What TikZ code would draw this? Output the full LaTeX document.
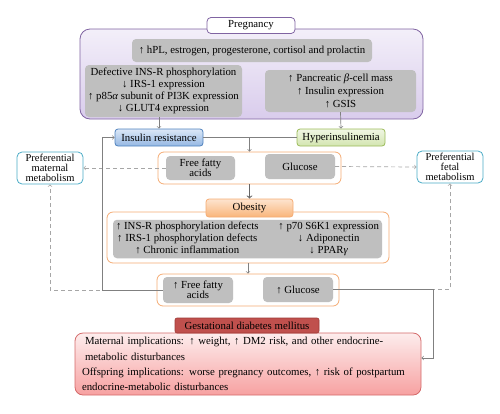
\documentclass[tikz,border=0pt]{standalone}
\usepackage{fontspec}
\setmainfont{Liberation Serif}
\usepackage{tikz}
\usetikzlibrary{arrows}
\definecolor{purp}{HTML}{8064A2}
\definecolor{purpA}{HTML}{F3EFF9}
\definecolor{purpB}{HTML}{D9CCEC}
\definecolor{boxgrey}{HTML}{BFBFBF}
\definecolor{blu}{HTML}{4F81BD}
\definecolor{bluA}{HTML}{DCE8F7}
\definecolor{bluB}{HTML}{95B8E3}
\definecolor{grn}{HTML}{9BBB59}
\definecolor{grnA}{HTML}{F0F6E4}
\definecolor{grnB}{HTML}{D3E5B0}
\definecolor{tealc}{HTML}{4BACC6}
\definecolor{orng}{HTML}{F5AC74}
\definecolor{orngA}{HTML}{FDE4CF}
\definecolor{orngB}{HTML}{F9B57A}
\definecolor{lnk}{HTML}{808080}
\definecolor{lnkdark}{HTML}{666666}
\definecolor{dashc}{HTML}{A6A6A6}
\definecolor{redd}{HTML}{C0504D}
\definecolor{redD}{HTML}{9C3A37}
\definecolor{pinkA}{HTML}{FDEDED}
\definecolor{pinkB}{HTML}{F7A1A1}
\definecolor{pinkD}{HTML}{D46A6A}

\begin{document}
\begin{tikzpicture}[x=1pt,y=-1pt,>=to,
  every node/.style={font=\fontsize{10.8}{12.5}\selectfont},
  greybox/.style={fill=boxgrey,rounded corners=4pt,align=center,inner sep=2pt},
  frame/.style={draw=orng,line width=0.8pt,rounded corners=6pt,fill=white},
  metab/.style={draw=tealc,line width=0.8pt,fill=white,rounded corners=5pt,align=center,
    minimum width=66pt,minimum height=32pt,inner sep=1pt,font=\fontsize{10.5}{10}\selectfont},
  link/.style={draw=lnk,line width=0.7pt,->},
  dashlink/.style={draw=dashc,line width=0.7pt,dash pattern=on 4pt off 3pt,->}]
\useasboundingbox (0,0) rectangle (500,413);
\node[draw=purp,line width=0.8pt,rounded corners=10pt,top color=purpA,bottom color=purpB,minimum width=343pt,minimum height=90pt] (pregbox) at (251.5,74) {};
\node[draw=purp,line width=0.8pt,fill=white,rounded corners=4pt,minimum width=88pt,minimum height=16pt] (preg) at (251,25.5) {Pregnancy};
\node[greybox,minimum width=240pt,minimum height=23pt] (hpl) at (252,50.5) {↑ hPL, estrogen, progesterone, cortisol and prolactin};
\node[greybox,minimum width=157pt,minimum height=52pt,font=\fontsize{10.8}{12.2}\selectfont] (defect) at (163.5,91) {Defective INS-R phosphorylation\\↓ IRS-1 expression\\↑ p85\textit{α} subunit of PI3K expression\\↓ GLUT4 expression};
\node[greybox,minimum width=151pt,minimum height=42pt,font=\fontsize{10.8}{13}\selectfont] (panc) at (340.5,91) {↑ Pancreatic \textit{β}-cell mass\\↑ Insulin expression\\↑ GSIS};
\node[draw=blu,line width=0.8pt,top color=bluA,bottom color=bluB,rounded corners=3pt,minimum width=88pt,minimum height=17pt] (insres) at (159,137.5) {Insulin resistance};
\node[draw=grn,line width=0.8pt,top color=grnA,bottom color=grnB,rounded corners=3pt,minimum width=88pt,minimum height=17pt] (hyper) at (341,137.5) {Hyperinsulinemia};
\node[metab] (mat) at (50,168) {Preferential\\maternal\\metabolism};
\node[metab] (fet) at (450,167) {Preferential\\fetal\\metabolism};
\node[frame,minimum width=183pt,minimum height=32pt] (fgbox) at (249.5,168) {};
\node[greybox,minimum width=69pt,minimum height=24pt,font=\fontsize{10.8}{10}\selectfont] (ffa) at (200.5,168) {Free fatty\\acids};
\node[greybox,minimum width=70pt,minimum height=25pt] (glu) at (300,166.5) {Glucose};
\node[frame,minimum width=282pt,minimum height=51pt] (obesbox) at (248,237.5) {};
\node[greybox,minimum width=269pt,minimum height=38pt,inner sep=1pt] (obesgrey) at (247.5,239) {\begin{tabular}{@{}c@{\hspace{20pt}}c@{}}
↑ INS-R phosphorylation defects & ↑ p70 S6K1 expression\\[-0.5pt]
↑ IRS-1 phosphorylation defects & ↓ Adiponectin\\[-0.5pt]
↑ Chronic inflammation & ↓ PPAR\textit{γ}
\end{tabular}};
\node[draw=orng,line width=0.8pt,top color=orngA,bottom color=orngB,rounded corners=3pt,minimum width=87pt,minimum height=18pt] (obes) at (249.5,208) {Obesity};
\node[frame,minimum width=182pt,minimum height=32pt] (fg2box) at (248,290) {};
\node[greybox,minimum width=70pt,minimum height=26pt,font=\fontsize{10.8}{10}\selectfont] (ffa2) at (198,290) {↑ Free fatty\\acids};
\node[greybox,minimum width=70pt,minimum height=25pt] (glu2) at (298,289.5) {↑ Glucose};
\node[draw=pinkD,line width=0.8pt,top color=pinkA,bottom color=pinkB,rounded corners=8pt,minimum width=346pt,minimum height=62pt,text width=332pt,align=left,font=\fontsize{10.8}{15.3}\selectfont] (gdmbox) at (248,364) {\hspace{3pt}Maternal implications: ↑ weight, ↑ DM2 risk, and other endocrine-\\
\hspace{3pt}metabolic disturbances\\
Offspring implications: worse pregnancy outcomes, ↑ risk of postpartum\\
endocrine-metabolic disturbances};
\node[draw=redD,line width=0.6pt,fill=redd,rounded corners=2pt,minimum width=144pt,minimum height=15pt,inner sep=1pt] (gdm) at (247,325.5) {Gestational diabetes mellitus};
\draw[link] (defect.south -| insres.north) -- (insres.north);
\draw[link] (panc.south) -- (hyper.north);
\draw[draw=lnk,line width=0.7pt] (insres.east) -- (hyper.west);
\draw[link] (insres.east -| fgbox.north) -- (fgbox.north);
\draw[link,draw=lnkdark,line width=1.1pt] (fgbox.south) -- (obes.north);
\draw[link] (obesbox.south) -- (fg2box.north);
\draw[dashlink] (ffa.west) -- (mat.east);
\draw[dashlink] (glu.east) -- (fet.west);
\draw[dashlink] (ffa2.west) -| (mat.south);
\draw[dashlink] (glu2.east) -| (fet.south);
\draw[link] (ffa2.west) -- ++(-60,0) |- (insres.west);
\draw[link] (glu2.east) -- ++(100,0) |- ([yshift=6pt]gdmbox.east);
\end{tikzpicture}
\end{document}
